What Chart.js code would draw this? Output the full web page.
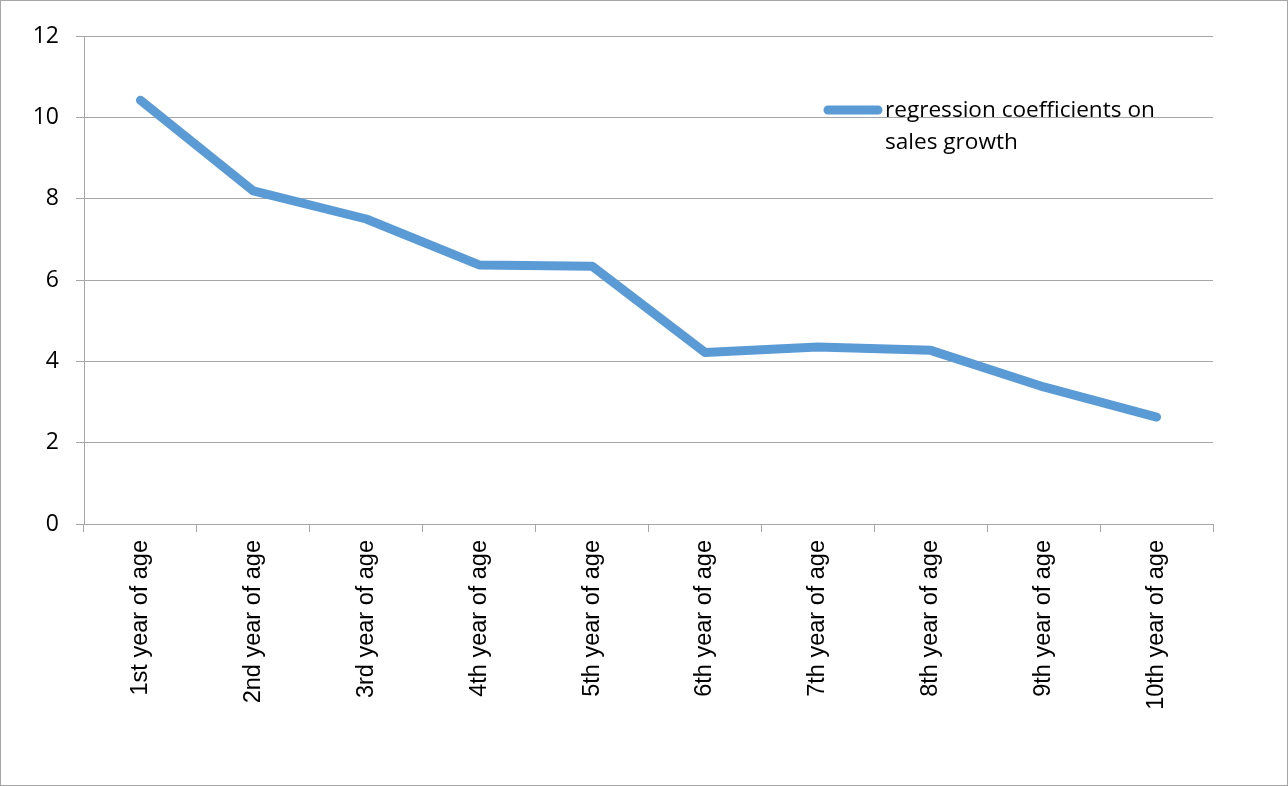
<!DOCTYPE html>
<html>
<head>
<meta charset="utf-8">
<script src="https://cdn.jsdelivr.net/npm/chart.js@4.4.1/dist/chart.umd.min.js"></script>
<style>
  html, body { margin: 0; padding: 0; background: #fff; }
  #wrap { width: 1288px; height: 786px; position: relative; }
</style>
</head>
<body>
<div id="wrap"><canvas id="lineChart"></canvas></div>
<script>
const categories = [
    '1st year of age', '2nd year of age', '3rd year of age', '4th year of age', '5th year of age',
    '6th year of age', '7th year of age', '8th year of age', '9th year of age', '10th year of age'
];
const coefficients = [10.42, 8.19, 7.5, 6.37, 6.34, 4.22, 4.35, 4.27, 3.37, 2.63];
const seriesName = ['regression coefficients on', 'sales growth'];
const yTicks = [0, 2, 4, 6, 8, 10, 12];

const lineColor = '#5b9bd5';
const gridColor = '#a6a6a6';

// frame round the whole picture
const framePlugin = {
    id: 'frame',
    beforeDraw(chart) {
        const ctx = chart.ctx;
        ctx.save();
        ctx.fillStyle = '#fff';
        ctx.fillRect(0, 0, chart.width, chart.height);
        ctx.strokeStyle = '#a6a6a6';
        ctx.lineWidth = 1;
        ctx.strokeRect(0.5, 0.5, chart.width - 1, chart.height - 1);
        ctx.restore();
    }
};

// legend with wrapped text, drawn inside the plot like the original
const legendPlugin = {
    id: 'wrapLegend',
    afterDraw(chart) {
        const ctx = chart.ctx;
        const x0 = 828, y0 = 110;
        ctx.save();
        ctx.strokeStyle = lineColor;
        ctx.lineWidth = 9;
        ctx.lineCap = 'round';
        ctx.beginPath();
        ctx.moveTo(x0, y0);
        ctx.lineTo(x0 + 50, y0);
        ctx.stroke();
        ctx.fillStyle = '#000';
        ctx.font = '22.6px "Open Sans"';
        ctx.textBaseline = 'middle';
        seriesName.forEach((t, i) => ctx.fillText(t, 885, y0 + 1 + i * 32));
        ctx.restore();
    }
};

new Chart(document.getElementById('lineChart'), {
    type: 'line',
    data: {
        labels: categories,
        datasets: [{
            label: seriesName.join(' '),
            data: coefficients,
            borderColor: lineColor,
            borderWidth: 9,
            borderCapStyle: 'round',
            borderJoinStyle: 'round',
            pointRadius: 0,
            tension: 0,
            fill: false
        }]
    },
    options: {
        responsive: true,
        maintainAspectRatio: false,
        animation: false,
        layout: { padding: { top: 36, right: 75, bottom: 0, left: 0 } },
        plugins: {
            legend: { display: false },
            tooltip: { enabled: false }
        },
        scales: {
            x: {
                offset: true,
                grid: {
                    offset: true,
                    drawOnChartArea: false,
                    drawTicks: true,
                    tickLength: 8,
                    color: gridColor
                },
                border: { color: gridColor },
                ticks: {
                    color: '#000',
                    font: { family: 'Liberation Sans', size: 23.5 },
                    minRotation: 90,
                    maxRotation: 90,
                    padding: 8
                },
                afterFit(scale) { scale.height = 262; }
            },
            y: {
                min: 0,
                max: 12,
                afterBuildTicks(scale) { scale.ticks = yTicks.map(v => ({ value: v })); },
                grid: {
                    color: gridColor,
                    tickLength: 8
                },
                border: { color: gridColor },
                ticks: {
                    color: '#000',
                    font: { family: 'Open Sans', size: 23 },
                    padding: 17
                },
                afterFit(scale) { scale.width = 84; }
            }
        }
    },
    plugins: [framePlugin, legendPlugin]
});
</script>
</body>
</html>
